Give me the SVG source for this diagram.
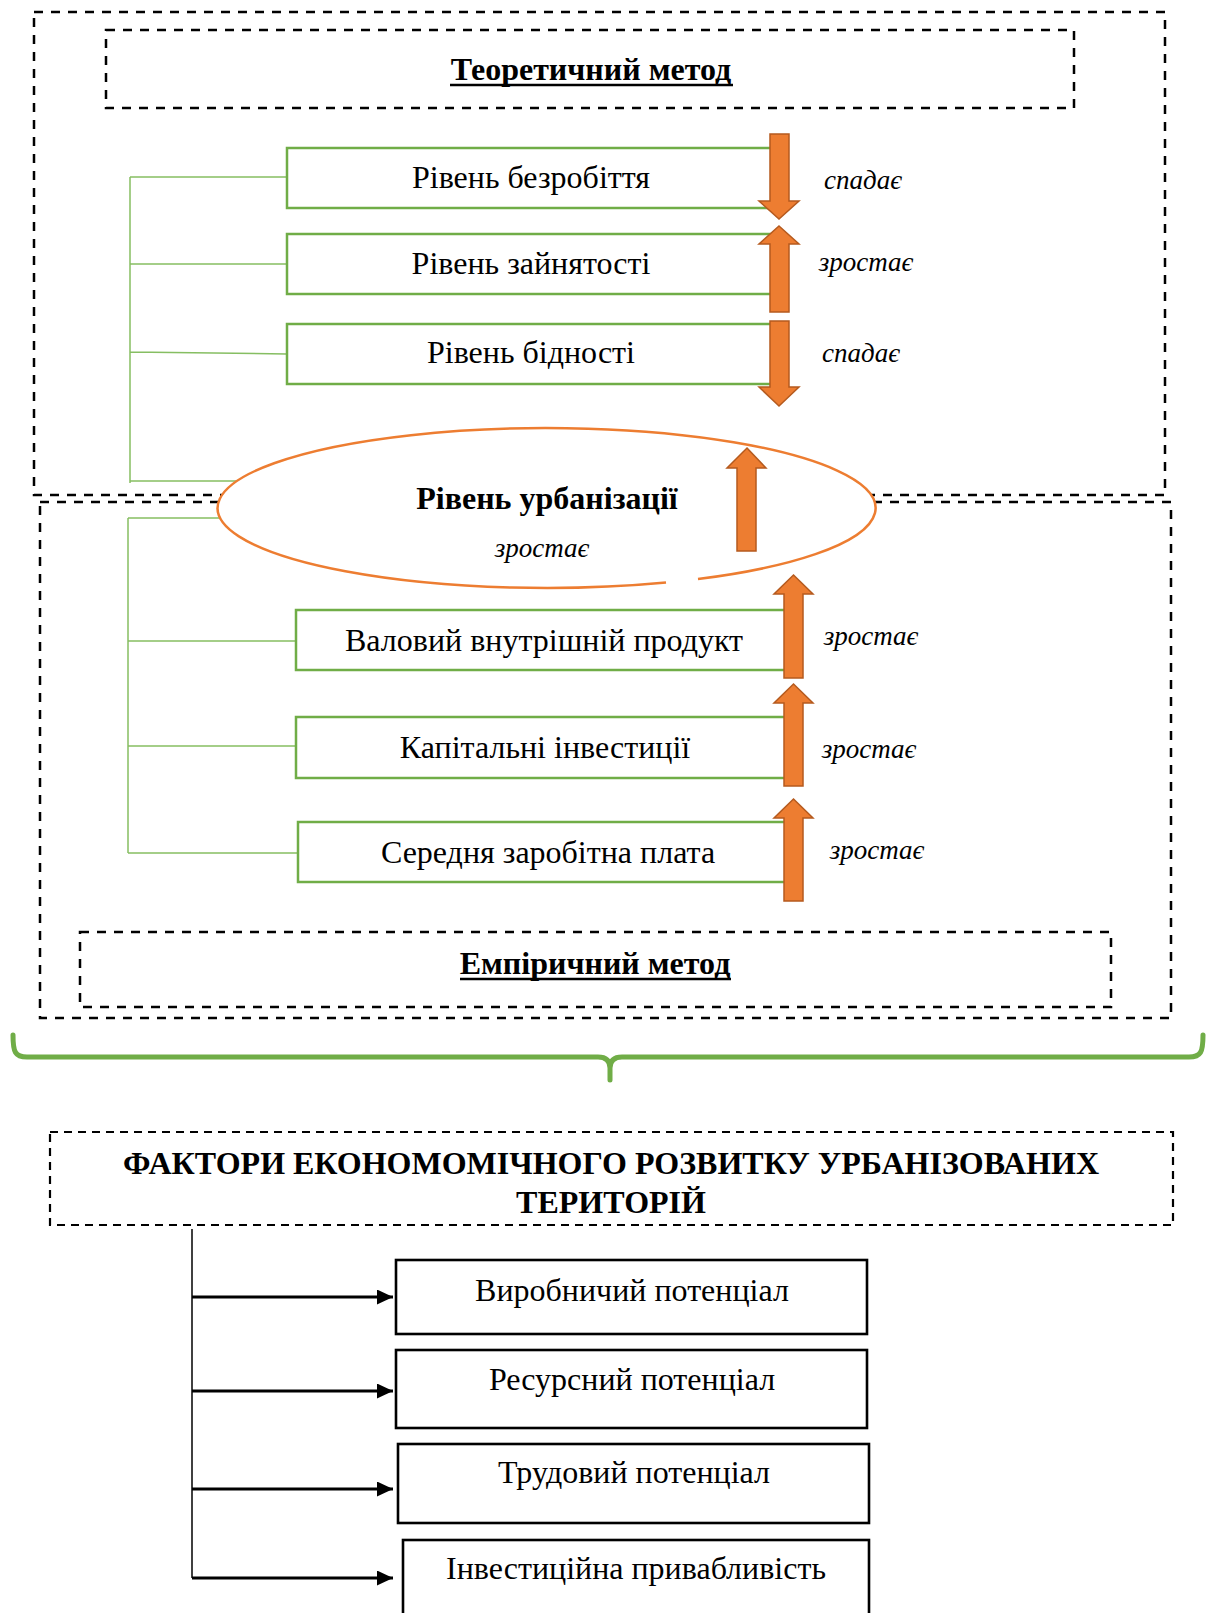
<svg xmlns="http://www.w3.org/2000/svg" width="1215" height="1613" viewBox="0 0 1215 1613">
<style>
.dash{fill:none;stroke:#000;stroke-width:2.5;stroke-dasharray:9 8}
.dash2{fill:none;stroke:#000;stroke-width:2.2;stroke-dasharray:8 6}
.gbox{fill:#fff;stroke:#70AD47;stroke-width:2.5}
.gline{fill:none;stroke:#86BE62;stroke-width:1.5}
.oar{fill:#ED7D31;stroke:#B55A1E;stroke-width:1.5;stroke-linejoin:miter}
.bbox{fill:#fff;stroke:#000;stroke-width:2.6}
.conn{stroke:#000;stroke-width:3;fill:none}
.vconn{stroke:#000;stroke-width:1.5;fill:none}
.ul{stroke:#000;stroke-width:2.5}
.t{font-family:"Liberation Serif","Times New Roman",serif;font-size:32px;fill:#000;text-anchor:middle}
.b{font-weight:bold}
.i{font-style:italic;font-size:27px}
.brace{fill:none;stroke:#70AD47;stroke-width:5;stroke-linecap:round;stroke-linejoin:round}
</style>
<defs>
<marker id="ah" markerUnits="userSpaceOnUse" markerWidth="17" markerHeight="15" refX="16" refY="7.5" orient="auto">
<path d="M0,0 L16,7.5 L0,15 z" fill="#000"/>
</marker>
</defs>
<rect width="1215" height="1613" fill="#fff"/>

<g id="frames">
<rect class="dash" x="34" y="12" width="1131" height="483"/>
<rect class="dash" x="40" y="502" width="1131" height="516"/>
</g>

<g id="connectors">
<path class="gline" d="M130,177 V483 M130,177 H287 M130,264 H287 M130,352 L287,354 M130,481 H240"/>
<path class="gline" d="M128,518 V853 M128,518 H225 M128,641 H296 M128,746 H296 M128,853 H298"/>
<path class="vconn" d="M192,1229 V1578"/>
<line class="conn" x1="192" y1="1297" x2="393" y2="1297" marker-end="url(#ah)"/>
<line class="conn" x1="192" y1="1391" x2="393" y2="1391" marker-end="url(#ah)"/>
<line class="conn" x1="192" y1="1489" x2="393" y2="1489" marker-end="url(#ah)"/>
<line class="conn" x1="192" y1="1578" x2="393" y2="1578" marker-end="url(#ah)"/>
<path class="brace" d="M13,1035 C13,1052 15,1057 27,1057 L598,1057 C606,1057 610,1061 610,1068 L610,1080 M1203,1035 C1203,1052 1201,1057 1189,1057 L622,1057 C614,1057 610,1061 610,1068"/>
</g>

<g id="theoretical">
<rect class="dash" x="106" y="30" width="968" height="78"/>
<text class="t b" x="591" y="80">Теоретичний метод</text>
<line class="ul" x1="450" y1="85" x2="733" y2="85"/>
</g>

<g id="unemployment">
<rect class="gbox" x="287" y="148" width="488" height="60"/>
<text class="t" x="531" y="188">Рівень безробіття</text>
<polygon class="oar" points="770,134 789,134 789,201 799,201 779,219 759,201 770,201"/>
<text class="t i" x="863" y="189">спадає</text>
</g>

<g id="employment">
<rect class="gbox" x="287" y="234" width="488" height="60"/>
<text class="t" x="531" y="274">Рівень зайнятості</text>
<polygon class="oar" points="779,226 799,244 789,244 789,312 770,312 770,244 759,244"/>
<text class="t i" x="866" y="271">зростає</text>
</g>

<g id="poverty">
<rect class="gbox" x="287" y="324" width="488" height="60"/>
<text class="t" x="531" y="363">Рівень бідності</text>
<polygon class="oar" points="770,321 789,321 789,387 799,387 779,406 759,387 770,387"/>
<text class="t i" x="861" y="362">спадає</text>
</g>

<g id="urbanization">
<ellipse cx="547" cy="508" rx="329" ry="80" fill="#fff"/>
<path d="M698,579.07 A329,80 0 1 0 666,582.59" fill="none" stroke="#ED7D31" stroke-width="2.5"/>
<text class="t b" x="547" y="509">Рівень урбанізації</text>
<text class="t i" x="542" y="557">зростає</text>
<polygon class="oar" points="747,448 766,468 756,468 756,551 737,551 737,468 727,468"/>
</g>

<g id="gdp">
<rect class="gbox" x="296" y="610" width="492" height="60"/>
<text class="t" x="544" y="651">Валовий внутрішній продукт</text>
<polygon class="oar" points="793.5,575 813,594 803,594 803,678 784,678 784,594 774,594"/>
<text class="t i" x="871" y="645">зростає</text>
</g>

<g id="capital-investment">
<rect class="gbox" x="296" y="717" width="492" height="61"/>
<text class="t" x="545" y="758">Капітальні інвестиції</text>
<polygon class="oar" points="793.5,684 813,703 803,703 803,786 784,786 784,703 774,703"/>
<text class="t i" x="869" y="758">зростає</text>
</g>

<g id="average-wage">
<rect class="gbox" x="298" y="822" width="490" height="60"/>
<text class="t" x="548" y="863">Середня заробітна плата</text>
<polygon class="oar" points="793.5,799 813,818 803,818 803,901 784,901 784,818 774,818"/>
<text class="t i" x="877" y="859">зростає</text>
</g>

<g id="empirical">
<rect class="dash" x="80" y="932" width="1031" height="75"/>
<text class="t b" x="595" y="974">Емпіричний метод</text>
<line class="ul" x1="460" y1="979" x2="731" y2="979"/>
</g>

<g id="factors">
<rect class="dash2" x="50" y="1132" width="1123" height="93"/>
<text class="t b" x="611" y="1174">ФАКТОРИ ЕКОНОМОМІЧНОГО РОЗВИТКУ УРБАНІЗОВАНИХ</text>
<text class="t b" x="611" y="1213">ТЕРИТОРІЙ</text>
</g>

<g id="production-potential">
<rect class="bbox" x="396" y="1260" width="471" height="74"/>
<text class="t" x="632" y="1301">Виробничий потенціал</text>
</g>
<g id="resource-potential">
<rect class="bbox" x="396" y="1350" width="471" height="78"/>
<text class="t" x="632" y="1390">Ресурсний потенціал</text>
</g>
<g id="labour-potential">
<rect class="bbox" x="398" y="1444" width="471" height="79"/>
<text class="t" x="634" y="1483">Трудовий потенціал</text>
</g>
<g id="investment-attractiveness">
<rect class="bbox" x="403" y="1540" width="466" height="90"/>
<text class="t" x="636" y="1579">Інвестиційна привабливість</text>
</g>
</svg>
